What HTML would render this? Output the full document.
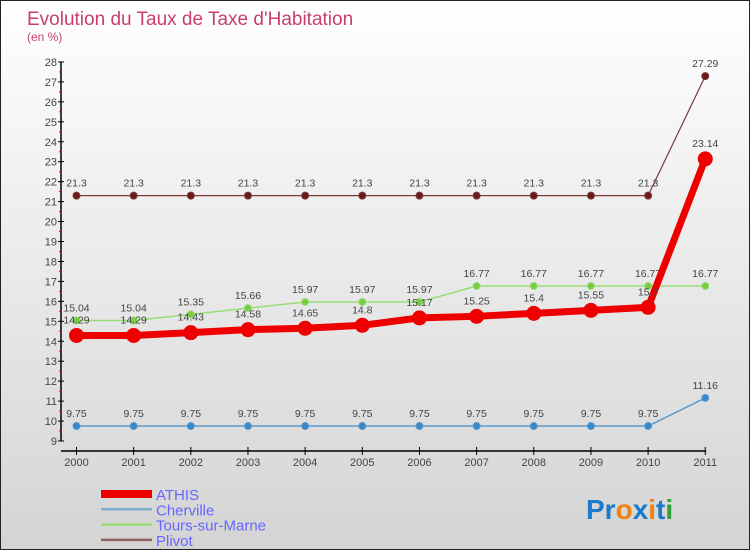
<!DOCTYPE html>
<html><head><meta charset="utf-8"><style>
body{margin:0;}
#c{width:750px;height:550px;position:relative;box-sizing:border-box;border:1px solid #222;background:linear-gradient(#ffffff,#d4d4d4);font-family:"Liberation Sans",sans-serif;overflow:hidden}
svg text{font-family:"Liberation Sans",sans-serif}
</style></head><body>
<div id="c">
<svg id="s" width="750" height="550">
<text x="26" y="24" font-size="19" fill="#c8406a">Evolution du Taux de Taxe d'Habitation</text>
<text x="26" y="40" font-size="12" fill="#c8406a">(en %)</text>
<text x="585" y="518" font-size="28" font-weight="bold"><tspan fill="#1a7acc">Pr</tspan><tspan fill="#f08010">o</tspan><tspan fill="#1a7acc">x</tspan><tspan fill="#f08010">i</tspan><tspan fill="#1a7acc">t</tspan><tspan fill="#30a030">i</tspan></text>
</svg>
</div>
<script>
const years=["2000","2001","2002","2003","2004","2005","2006","2007","2008","2009","2010","2011"];
const athis=[14.29,14.29,14.43,14.58,14.65,14.8,15.17,15.25,15.4,15.55,15.7,23.14];
const cherville=[9.75,9.75,9.75,9.75,9.75,9.75,9.75,9.75,9.75,9.75,9.75,11.16];
const tours=[15.04,15.04,15.35,15.66,15.97,15.97,15.97,16.77,16.77,16.77,16.77,16.77];
const plivot=[21.3,21.3,21.3,21.3,21.3,21.3,21.3,21.3,21.3,21.3,21.3,27.29];
const yTicks=[9,10,11,12,13,14,15,16,17,18,19,20,21,22,23,24,25,26,27,28];
const NS="http://www.w3.org/2000/svg";
const s=document.getElementById('s');
const X=i=>75.5+i*57.16;
const Y=v=>440-(v-9)*19.95;
function el(t,a,p){const e=document.createElementNS(NS,t);for(const k in a)e.setAttribute(k,a[k]);(p||s).appendChild(e);return e;}
// axes
let ya=el('line',{x1:60,y1:Y(28),x2:60,y2:Y(9),stroke:'#000','stroke-width':1.5});


yTicks.forEach(v=>{
 el('line',{x1:57,x2:63,y1:Y(v),y2:Y(v),stroke:'#000'});
 if(v<28) el('line',{x1:58,x2:61,y1:Y(v+0.5),y2:Y(v+0.5),stroke:'#e00'});
 const t=el('text',{x:56,y:Y(v)+4,'font-size':11,fill:'#444','text-anchor':'end'});
 t.textContent=v;
 
 
});
let xa=el('line',{x1:60,y1:450,x2:X(11)+1,y2:450,stroke:'#000','stroke-width':1.5});


years.forEach((y,i)=>{
 el('line',{x1:X(i),x2:X(i),y1:446,y2:454,stroke:'#000'});
 const t=el('text',{x:X(i),y:465,'font-size':11,fill:'#444','text-anchor':'middle'});
 t.textContent=y;
 
 
});
function series(name,vals,color,w,r,fill,labelOff){
 const g=el('g',{});
 
 
 el('polyline',{points:vals.map((v,i)=>X(i)+','+Y(v)).join(' '),fill:'none',stroke:color,'stroke-width':w,'stroke-linejoin':'round'},g);
 vals.forEach((v,i)=>{
  const c=el('circle',{cx:X(i),cy:Y(v),r:r,fill:fill,stroke:color,'stroke-width':1},g);
  
  
  const t=el('text',{x:X(i),y:Y(v)-labelOff,'font-size':10.5,fill:'#444','text-anchor':'middle'},g);
  t.textContent=String(v);
  
  
 });
}
series('plivot',plivot,'#7a3a3a',1.2,3.5,'#6a1a1a',9);
series('cherville',cherville,'#5a9acc',1.5,3.5,'#3a88cc',9);
series('tours',tours,'#99dd77',1.5,3.5,'#77cc44',9);
series('athis',athis,'#ee0000',7,7,'#ee0000',12);
// legend
const leg=[['ATHIS','#ee0000',8],['Cherville','#7aaccc',2.5],['Tours-sur-Marne','#99dd77',2.5],['Plivot','#906060',2.5]];
leg.forEach((l,i)=>{
 const y=493+i*15.3;
 const g=el('g',{});
 
 
 el('line',{x1:100,x2:151,y1:y,y2:y,stroke:l[1],'stroke-width':l[2]},g);
 const t=el('text',{x:155,y:y+6,'font-size':15,fill:'#6666ff'},g);
 t.textContent=l[0];
});
</script>
</body></html>
